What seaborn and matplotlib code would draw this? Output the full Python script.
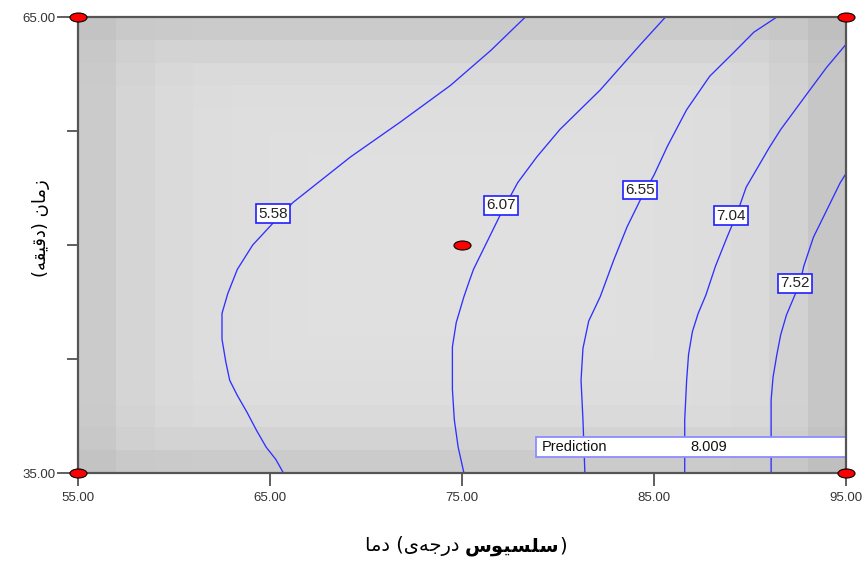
import matplotlib
matplotlib.use('Agg')
import numpy as np
import matplotlib.pyplot as plt
import seaborn as sns
from matplotlib.patches import Rectangle
from matplotlib.path import Path
from matplotlib.transforms import Affine2D

# contour lines: temperature (x) along time (y)
levels = [5.58, 6.07, 6.55, 7.04, 7.52]

c558_temp = [65.7, 65.3, 64.8, 64.3, 63.8, 63.3, 62.9, 62.7, 62.5, 62.5, 62.8, 63.3, 64.1, 65.2, 66.2, 67.5, 69.2, 71.8, 74.4, 76.5, 78.3]
c558_time = [35.0, 35.9, 36.7, 37.8, 39.0, 40.1, 41.1, 42.3, 43.8, 45.5, 46.8, 48.4, 50.0, 51.5, 52.8, 54.1, 55.8, 58.1, 60.5, 62.8, 65.0]

c607_temp = [75.1, 74.8, 74.6, 74.5, 74.5, 74.5, 74.7, 75.1, 75.4, 75.6, 76.3, 77.0, 77.9, 78.9, 80.1, 82.2, 84.3, 85.6]
c607_time = [35.0, 36.7, 38.5, 40.5, 41.8, 43.3, 44.9, 46.6, 47.7, 48.4, 50.2, 52.0, 54.1, 55.8, 57.6, 60.2, 63.2, 65.0]

c655_temp = [81.4, 81.3, 81.2, 81.3, 81.6, 82.2, 82.9, 83.6, 84.3, 85.0, 85.7, 86.7, 87.9, 89.1, 90.2, 91.4]
c655_time = [35.0, 38.5, 41.1, 43.2, 45.0, 46.6, 49.0, 51.2, 53.0, 54.6, 56.5, 58.9, 61.1, 62.6, 64.0, 65.0]

c704_temp = [86.6, 86.6, 86.7, 86.8, 87.0, 87.3, 87.7, 88.2, 88.8, 89.3, 89.8, 90.4, 91.0, 91.6, 93.0, 94.0, 95.0]
c704_time = [35.0, 38.5, 41.1, 42.8, 44.3, 45.5, 46.7, 48.6, 50.5, 52.0, 53.8, 55.1, 56.4, 57.6, 60.0, 61.7, 63.2]

c752_temp = [91.1, 91.1, 91.1, 91.2, 91.4, 91.6, 91.9, 92.3, 92.6, 92.8, 93.3, 94.0, 94.7, 95.0]
c752_time = [35.0, 37.8, 39.8, 41.3, 42.8, 44.1, 45.4, 46.6, 47.5, 48.6, 50.5, 52.3, 54.1, 54.7]

# design points
design_temp = [55, 55, 95, 95, 75]
design_time = [35, 65, 35, 65, 50]

pred_temp, pred_time, pred_value = 95, 35, 8.009

x_ticks = [55, 65, 75, 85, 95]
y_ticks = [35, 65]
y_minor = [42.5, 50, 57.5]

# background shading (darkening per cell row / column)
row_dark = [21, 12, 6, 3, 2, 1, 0, 0, 0, 0, 0, 0, 0, 0, 1, 2, 3, 6, 12, 21]
col_dark = [21, 11, 6, 3, 2, 1, 0, 0, 0, 0, 0, 0, 0, 0, 1, 2, 3, 6, 14, 26]

# where the level labels sit (temp, time)
label_pos = [(65.16, 52.07), (77.03, 52.6), (84.27, 53.62), (89.01, 51.94), (92.34, 47.47)]

# --- simple arabic shaping (matplotlib does not shape) ---
FORMS = {
    'ا': ('\uFE8D', '\uFE8E', None, None),
    'د': ('\uFEA9', '\uFEAA', None, None),
    'ر': ('\uFEAD', '\uFEAE', None, None),
    'ز': ('\uFEAF', '\uFEB0', None, None),
    'و': ('\uFEED', '\uFEEE', None, None),
    'ج': ('\uFE9D', '\uFE9E', '\uFE9F', '\uFEA0'),
    'ه': ('\uFEE9', '\uFEEA', '\uFEEB', '\uFEEC'),
    'س': ('\uFEB1', '\uFEB2', '\uFEB3', '\uFEB4'),
    'ل': ('\uFEDD', '\uFEDE', '\uFEDF', '\uFEE0'),
    'م': ('\uFEE1', '\uFEE2', '\uFEE3', '\uFEE4'),
    'ن': ('\uFEE5', '\uFEE6', '\uFEE7', '\uFEE8'),
    'ق': ('\uFED5', '\uFED6', '\uFED7', '\uFED8'),
    'ی': ('\uFBFC', '\uFBFD', '\uFBFE', '\uFBFF'),
}


def shape(word):
    out = []
    for i, ch in enumerate(word):
        f = FORMS.get(ch)
        if f is None:
            if ch != '\u200c':
                out.append(ch)
            continue
        prev = word[i - 1] if i > 0 else ''
        nxt = word[i + 1] if i + 1 < len(word) else ''
        jp = prev in FORMS and FORMS[prev][2] is not None
        jn = nxt in FORMS and f[2] is not None
        out.append(f[3] if jp and jn else f[1] if jp else f[2] if jn else f[0])
    return ''.join(out)[::-1]


sns.set_style('white')
plt.rcParams['font.family'] = ['Liberation Sans', 'DejaVu Sans']

W, H = 866, 562
fig, ax = plt.subplots(figsize=(W / 100, H / 100), dpi=100)
fig.subplots_adjust(left=78 / W, right=846 / W, bottom=1 - 473 / H, top=1 - 17 / H)

bg = 224 - np.hypot.outer(np.array(row_dark, float), np.array(col_dark, float))
ax.imshow(bg, cmap='gray', vmin=0, vmax=255, extent=(55, 95, 35, 65), origin='lower',
          aspect='auto', interpolation='nearest', zorder=0)

lines = [(c558_temp, c558_time), (c607_temp, c607_time), (c655_temp, c655_time),
         (c704_temp, c704_time), (c752_temp, c752_time)]
for lvl, (tx, ty), (lx, ly) in zip(levels, lines, label_pos):
    sns.lineplot(x=tx, y=ty, sort=False, estimator=None, color='#3030ff', lw=0.95, ax=ax, zorder=2)
    ax.text(lx, ly, f'{lvl:.2f}', ha='center', va='center', fontsize=11, color='#222222',
            bbox=dict(boxstyle='square,pad=0.14', fc='white', ec='#2020ff', lw=1.2), zorder=4)

ellipse = Affine2D().scale(1, 0.53).transform_path(Path.unit_circle())
sns.scatterplot(x=design_temp, y=design_time, marker=ellipse, s=150, color='#ff0000',
                edgecolor='black', linewidth=0.8, ax=ax, zorder=6, clip_on=False)

# prediction flag
ax.add_patch(Rectangle((78.85, 36.05), 95 - 78.85, 1.32, fc='white', ec='#8c8cff', lw=1.3, zorder=5))
ax.text(79.15, 36.71, 'Prediction', va='center', fontsize=10.5, color='#111111', zorder=6)
ax.text(86.9, 36.71, f'{pred_value:.3f}', va='center', fontsize=10.5, color='#111111', zorder=6)
ax.annotate('', xy=(pred_temp, pred_time), xytext=(pred_temp, 36.05),
            arrowprops=dict(arrowstyle='-', color='#8080ff', lw=1.3), zorder=5)

ax.set_xlim(55, 95)
ax.set_ylim(35, 65)
ax.set_xticks(x_ticks)
ax.set_xticklabels([f'{v:.2f}' for v in x_ticks])
ax.set_yticks(y_ticks)
ax.set_yticklabels([f'{v:.2f}' for v in y_ticks])
ax.set_yticks(y_minor, minor=True)
ax.set_xlabel('')
ax.set_ylabel('')
ax.tick_params(axis='x', which='major', bottom=True, length=9.5, width=1.2, color='#444444',
               pad=4, labelsize=9.5, labelcolor='#333333')
ax.tick_params(axis='y', which='major', left=True, length=15, width=1.2, color='#444444',
               pad=1.5, labelsize=9.5, labelcolor='#333333')
ax.tick_params(axis='y', which='minor', left=True, length=8, width=1.2, color='#444444')
for s in ax.spines.values():
    s.set_color('#555555')
    s.set_linewidth(1.6)
    s.set_zorder(5)

# axis titles
ylab = '(' + shape('دقیقه') + ') ' + shape('زمان')
fig.text(41 / W, 1 - 228 / H, ylab, rotation=90, ha='center', va='center',
         family='DejaVu Sans', fontsize=13, color='black')

parts = [(shape('دما') + ' (' + shape('درجه\u200cی'), 'normal'), (shape('سلسیوس'), 'bold'), (')', 'normal')]
r = fig.canvas.get_renderer()
texts = [fig.text(0, 1 - 546 / H, s, ha='left', va='center', family='DejaVu Sans',
                  fontsize=14, fontweight=w, color='black') for s, w in parts]
widths = [t.get_window_extent(r).width for t in texts]
gap = 5
x0 = 466 - (sum(widths) + gap) / 2
xs = [x0, x0 + widths[0] + gap, x0 + widths[0] + gap + widths[1]]
for t, x in zip(texts, xs):
    t.set_x(x / W)

fig.savefig('out.png', dpi=100)
